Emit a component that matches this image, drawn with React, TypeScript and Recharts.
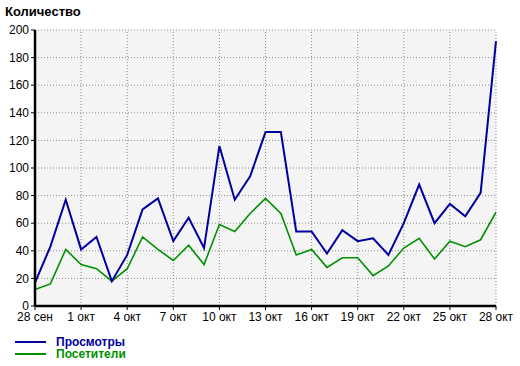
import { CartesianGrid, Line, LineChart, ReferenceLine, XAxis, YAxis } from "recharts"

const dates = [
  "28 сен", "29 сен", "30 сен", "1 окт", "2 окт", "3 окт", "4 окт", "5 окт", "6 окт", "7 окт",
  "8 окт", "9 окт", "10 окт", "11 окт", "12 окт", "13 окт", "14 окт", "15 окт", "16 окт", "17 окт",
  "18 окт", "19 окт", "20 окт", "21 окт", "22 окт", "23 окт", "24 окт", "25 окт", "26 окт", "27 окт",
  "28 окт",
]

const views = [
  17, 43, 77, 41, 50, 18, 37, 70, 78, 47, 64, 42, 116, 77, 94, 126, 126, 54, 54, 38, 55, 47, 49, 37, 60,
  88, 60, 74, 65, 82, 192,
]

const visitors = [
  12, 16, 41, 30, 27, 18, 27, 50, 41, 33, 44, 30, 59, 54, 67, 78, 67, 37, 41, 28, 35, 35, 22, 29, 42,
  49, 34, 47, 43, 48, 68,
]

const yTicks = [0, 20, 40, 60, 80, 100, 120, 140, 160, 180, 200]
const xTicks = [0, 3, 6, 9, 12, 15, 18, 21, 24, 27, 30]

const data = dates.map((d, i) => ({ idx: i, date: d, views: views[i], visitors: visitors[i] }))

const font = "'Liberation Sans', Arial, sans-serif"
const blue = "#00009c"
const green = "#009000"
const gridColor = "#8c8c8c"

export default function App() {
  return (
    <div style={{ position: "absolute", left: 0, top: 0, width: 520, height: 366, background: "#fff", fontFamily: font }}>
      <div style={{ position: "absolute", left: 5, top: 4, fontSize: 13, fontWeight: 700, color: "#000" }}>Количество</div>
      <LineChart width={520} height={330} data={data} margin={{ top: 30, right: 24, left: 0, bottom: 0 }}>
        <CartesianGrid fill="#f4f4f4" stroke={gridColor} strokeDasharray="1 2" vertical={false} />
        {xTicks.slice(1).map((t) => (
          <ReferenceLine key={t} x={t} stroke={gridColor} strokeDasharray="1 2" />
        ))}
        <XAxis
          dataKey="idx"
          type="number"
          domain={[0, 30]}
          ticks={xTicks}
          interval={0}
          tickFormatter={(v: number) => dates[v]}
          height={24}
          axisLine={{ stroke: "#000", strokeWidth: 2.5 }}
          tickLine={{ stroke: "#000" }}
          tickSize={4}
          tick={{ fill: "#000", fontSize: 12, fontFamily: font }}
        />
        <YAxis
          width={35}
          domain={[0, 200]}
          ticks={yTicks}
          interval={0}
          axisLine={{ stroke: "#000", strokeWidth: 2.5 }}
          tickLine={{ stroke: "#000" }}
          tickSize={4}
          tickMargin={2}
          tick={{ fill: "#000", fontSize: 12, fontFamily: font }}
        />
        <Line dataKey="visitors" stroke={green} strokeWidth={1.6} dot={false} isAnimationActive={false} />
        <Line dataKey="views" stroke={blue} strokeWidth={2} dot={false} isAnimationActive={false} />
      </LineChart>
      <div style={{ position: "absolute", left: 15, top: 336, fontSize: 12, fontWeight: 700, lineHeight: "12px" }}>
        <div style={{ display: "flex", alignItems: "center", color: blue }}>
          <span style={{ display: "inline-block", width: 31, height: 2, background: blue, marginRight: 10 }} />
          Просмотры
        </div>
        <div style={{ display: "flex", alignItems: "center", color: green }}>
          <span style={{ display: "inline-block", width: 31, height: 2, background: green, marginRight: 10 }} />
          Посетители
        </div>
      </div>
    </div>
  )
}
